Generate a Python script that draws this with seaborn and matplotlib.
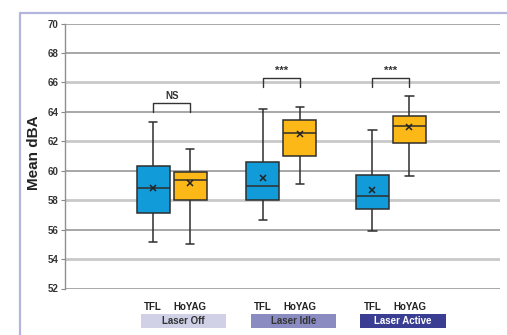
import numpy as np
import pandas as pd
import matplotlib
matplotlib.use("Agg")
import matplotlib.pyplot as plt
import matplotlib.transforms as mtransforms
from matplotlib.patches import Rectangle
from matplotlib.lines import Line2D
import seaborn as sns

# data (five-number summaries + means)
groups = ["Laser Off", "Laser Idle", "Laser Active"]
lasers = ["TFL", "HoYAG"]
box_group = ["Laser Off", "Laser Off", "Laser Idle", "Laser Idle", "Laser Active", "Laser Active"]
box_laser = ["TFL", "HoYAG", "TFL", "HoYAG", "TFL", "HoYAG"]
whis_low = [55.15, 55.05, 56.65, 59.1, 55.9, 59.65]
q1 = [57.15, 58.0, 58.0, 61.0, 57.4, 61.9]
median = [58.8, 59.35, 58.95, 62.55, 58.3, 63.05]
q3 = [60.3, 59.9, 60.6, 63.45, 59.7, 63.7]
whis_high = [63.3, 61.5, 64.2, 64.3, 62.75, 65.05]
means = [58.8, 59.15, 59.5, 62.5, 58.7, 63.0]

sig_labels = ["NS", "***", "***"]
sig_level = [64.6, 66.3, 66.3]

yticks = [52, 54, 56, 58, 60, 62, 64, 66, 68, 70]

sns.set_theme(style="white")
plt.rcParams['font.family'] = ['Liberation Sans', 'DejaVu Sans']
plt.rcParams['font.weight'] = 'bold'

rows = []
for g, l, a, b, c, d, e in zip(box_group, box_laser, whis_low, q1, median, q3, whis_high):
    for v in (a, b, c, d, e):
        rows.append({"group": g, "laser": l, "dBA": v})
df = pd.DataFrame(rows)
mean_df = pd.DataFrame({"group": box_group, "laser": box_laser, "dBA": means})

palette = {"TFL": "#119bd8", "HoYAG": "#fbb817"}
width = 0.676
off = width / 4

fig = plt.figure(figsize=(5.07, 3.35), dpi=100)
ax = fig.add_axes([65 / 507, 1 - 288.5 / 335, 434.5 / 507, 265 / 335])

sns.boxplot(data=df, x="group", y="dBA", hue="laser", order=groups, hue_order=lasers,
            palette=palette, saturation=1, width=width, gap=0.11, whis=(0, 100), linewidth=1.1,
            linecolor="#2e2e2e", legend=False, capwidths=0.075, ax=ax, zorder=3)
sns.pointplot(data=mean_df, x="group", y="dBA", hue="laser", order=groups, hue_order=lasers,
              palette={"TFL": "#222222", "HoYAG": "#222222"}, dodge=2 * off,
              linestyle="none", markers="x", markersize=5, markeredgewidth=1.1,
              errorbar=None, legend=False, ax=ax, zorder=5)

ax.set_ylim(52, 70)
ax.set_xlim(-0.973, 2.99)
ax.set_yticks(yticks)
ax.set_yticklabels([str(t) for t in yticks])
ax.tick_params(axis='y', length=3, width=0.8, color="#888888", pad=1.5,
               labelsize=7, labelcolor="#333333", left=True)
for lab in ax.get_yticklabels():
    lab.set_fontweight('bold')

# alternating grid shades
ax.yaxis.grid(True)
for t, gl in zip(yticks, ax.get_ygridlines()):
    if t in (54, 58, 62, 66):
        gl.set_color("#c9c9c9")
        gl.set_linewidth(2.0)
    else:
        gl.set_color("#8f8f8f")
        gl.set_linewidth(1.1)
    gl.set_zorder(0)
ax.set_axisbelow(True)

for s in ["top", "right", "bottom"]:
    ax.spines[s].set_visible(False)
ax.spines["left"].set_color("#8f8f8f")
ax.spines["left"].set_linewidth(1.0)

# x labels: laser type under each box
xpos = []
xlab = []
for i in range(len(groups)):
    xpos += [i - off, i + off]
    xlab += lasers
ax.set_xticks(xpos)
ax.set_xticklabels(xlab)
ax.tick_params(axis='x', length=0, pad=9.5, labelsize=7, labelcolor="#222222")
for lab in ax.get_xticklabels():
    lab.set_fontweight('bold')
ax.set_xlabel("")

# group name strips
trans = mtransforms.blended_transform_factory(ax.transData, ax.transAxes)
strip_colors = ["#d0d1e7", "#8a8cc1", "#393e93"]
strip_text = ["#333333", "#333333", "#ffffff"]
for i, g in enumerate(groups):
    cx = i + 0.11
    ax.add_patch(Rectangle((cx - 0.388, -0.148), 0.776, 0.052, transform=trans,
                           facecolor=strip_colors[i], edgecolor="none", clip_on=False))
    ax.text(cx, -0.122, g, transform=trans, ha="center", va="center", fontsize=7,
            fontweight="bold", color=strip_text[i])

# significance brackets
for i, (lab, h) in enumerate(zip(sig_labels, sig_level)):
    ax.plot([i - off, i - off, i + off, i + off], [h - 0.6, h, h, h - 0.6],
            color="#333333", lw=1.0, zorder=4)
    ax.text(i, h + 0.15, lab, ha="center", va="bottom", fontsize=7 if lab == "NS" else 8,
            fontweight="bold", color="#333333")

ax.set_ylabel("Mean dBA", fontsize=11, fontweight="bold", color="#222222")
ax.yaxis.set_label_coords(-0.055, 0.511)

# panel frame (left and top rule)
fc = "#b4b5dd"
fig.add_artist(Line2D([19.5 / 507, 19.5 / 507], [0, 1 - 12.5 / 335], color=fc, lw=1.6))
fig.add_artist(Line2D([19.5 / 507, 1], [1 - 12.5 / 335, 1 - 12.5 / 335], color=fc, lw=1.6))

fig.savefig("out.png", dpi=100)
